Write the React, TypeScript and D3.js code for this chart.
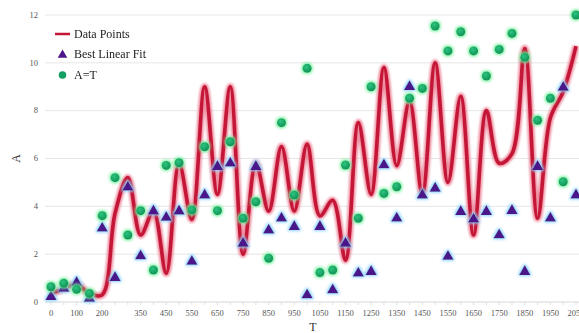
import React from "react";
import * as d3 from "d3";

const tValues = [
  0, 50, 100, 150, 200, 250, 300, 350, 400, 450, 500, 550, 600, 650, 700, 750, 800, 850, 900, 950, 1000,
  1050, 1100, 1150, 1200, 1250, 1300, 1350, 1400, 1450, 1500, 1550, 1600, 1650, 1700, 1750, 1800, 1850,
  1900, 1950, 2000, 2050,
];

// red smooth line
const dataPoints = [
  0.35, 0.55, 0.75, 0.35, 0.3, 3.7, 5.2, 2.8, 3.8, 1.2, 5.8, 3.45, 9.0, 4.5, 9.0, 2.0, 5.8, 3.8, 6.5, 3.8, 6.6,
  3.6, 4.25, 1.75, 7.5, 4.5, 9.8, 5.7, 8.4, 4.5, 10.0, 5.0, 8.6, 2.8, 8.0, 5.8, 6.2, 10.6, 3.5, 7.7, 8.8, 10.7,
];

// purple triangles
const bestLinearFit = [
  0.22, 0.57, 0.81, 0.15, 3.08, 1.02, 4.8, 1.92, 3.8, 3.53, 3.8, 1.69, 4.47, 5.66, 5.8, 2.45, 5.66, 3.0, 3.5,
  3.15, 0.29, 3.15, 0.5, 2.45, 1.2, 1.27, 5.73, 3.5, 9.0, 4.47, 4.75, 1.9, 3.78, 3.46, 3.78, 2.8, 3.82, 1.27,
  5.66, 3.5, 8.97, 4.47,
];

// green circles
const aEqualsT = [
  0.64, 0.78, 0.53, 0.36, 3.61, 5.2, 2.8, 3.82, 1.34, 5.71, 5.82, 3.85, 6.49, 3.82, 6.7, 3.5, 4.19, 1.83, 7.5,
  4.47, 9.77, 1.23, 1.34, 5.73, 3.5, 9.0, 4.54, 4.82, 8.52, 8.93, 11.54, 10.5, 11.3, 10.5, 9.45, 10.56, 11.23,
  10.23, 7.6, 8.52, 5.03, 12.0,
];

const xTickLabels = [0, 100, 200, 350, 450, 550, 650, 750, 850, 950, 1050, 1150, 1250, 1350, 1450, 1550, 1650, 1750, 1850, 1950, 2050];
const yTickLabels = [0, 2, 4, 6, 8, 10, 12];

const width = 579;
const height = 333;

const App: React.FC = () => {
  const x = d3.scaleLinear().domain([0, 2050]).range([51, 576]);
  const y = d3.scaleLinear().domain([0, 12]).range([302, 15]);

  const line = d3
    .line<number>()
    .x((_, i) => x(tValues[i]))
    .y((d) => y(d))
    .curve(d3.curveCatmullRom.alpha(0.5));
  const pathD = line(dataPoints) || "";

  const tri = d3.symbol(d3.symbolTriangle, 56)() || "";
  const font = "'Liberation Serif', 'Times New Roman', serif";

  return (
    <svg
      width={width}
      height={height}
      viewBox={`0 0 ${width} ${height}`}
      style={{ position: "absolute", left: 0, top: 0, background: "#fff" }}
    >
      <defs>
        <filter id="glowGreen" x="-60%" y="-60%" width="220%" height="220%">
          <feMorphology operator="dilate" radius="1.3" in="SourceAlpha" result="d" />
          <feGaussianBlur in="d" stdDeviation="1.5" result="b" />
          <feFlood floodColor="#74f29c" />
          <feComposite in2="b" operator="in" result="glow" />
          <feMerge>
            <feMergeNode in="glow" />
            <feMergeNode in="SourceGraphic" />
          </feMerge>
        </filter>
        <filter id="glowBlue" x="-60%" y="-60%" width="220%" height="220%">
          <feMorphology operator="dilate" radius="1.3" in="SourceAlpha" result="d" />
          <feGaussianBlur in="d" stdDeviation="1.5" result="b" />
          <feFlood floodColor="#8fd3ff" />
          <feComposite in2="b" operator="in" result="glow" />
          <feMerge>
            <feMergeNode in="glow" />
            <feMergeNode in="SourceGraphic" />
          </feMerge>
        </filter>
        <filter id="soft" x="-5%" y="-5%" width="110%" height="110%">
          <feGaussianBlur stdDeviation="0.9" />
        </filter>
        <radialGradient id="greenFill" cx="40%" cy="35%" r="70%">
          <stop offset="0%" stopColor="#2cc47e" />
          <stop offset="100%" stopColor="#0f8f55" />
        </radialGradient>
      </defs>

      {/* grid */}
      {yTickLabels.map((t) => (
        <g key={t}>
          <line x1={45} x2={width} y1={y(t)} y2={y(t)} stroke={t === 0 ? "#d8d8d8" : "#e6e6e6"} strokeWidth={1} />
          <text x={38} y={y(t)} dy="0.32em" textAnchor="end" fontSize={8.5} fill="#555" fontFamily={font}>
            {t}
          </text>
        </g>
      ))}

      {/* x ticks */}
      {tValues.map((t) => (
        <line key={t} x1={x(t)} x2={x(t)} y1={y(0)} y2={y(0) + 3} stroke="#e0e0e0" />
      ))}
      {xTickLabels.map((t) => (
        <text key={t} x={x(t)} y={316} textAnchor="middle" fontSize={8.5} fill="#555" fontFamily={font}>
          {t}
        </text>
      ))}

      {/* axis titles */}
      <text x={313} y={331} textAnchor="middle" fontSize={12} fill="#333" fontFamily={font}>
        T
      </text>
      <text
        transform={`translate(20,${y(6)}) rotate(-90)`}
        textAnchor="middle"
        fontSize={12}
        fill="#333"
        fontFamily={font}
      >
        A
      </text>

      {/* data line */}
      <path d={pathD} fill="none" stroke="#ee8ea0" strokeWidth={7} strokeLinejoin="round" filter="url(#soft)" />
      <path d={pathD} fill="none" stroke="#c41636" strokeWidth={3.6} strokeLinejoin="round" />

      {/* triangles */}
      <g filter="url(#glowBlue)">
        {bestLinearFit.map((v, i) => (
          <path key={i} d={tri} transform={`translate(${x(tValues[i])},${y(v)})`} fill="#4c168a" />
        ))}
      </g>

      {/* circles */}
      <g filter="url(#glowGreen)">
        {aEqualsT.map((v, i) => (
          <circle key={i} cx={x(tValues[i])} cy={y(v)} r={4.5} fill="url(#greenFill)" />
        ))}
      </g>

      {/* legend */}
      <g fontFamily={font} fontSize={12} fill="#222">
        <line x1={55} x2={70} y1={34} y2={34} stroke="#c41636" strokeWidth={2.5} />
        <text x={74} y={34} dy="0.35em">
          Data Points
        </text>
        <path d={d3.symbol(d3.symbolTriangle, 40)() || ""} transform="translate(62.5,55)" fill="#4c168a" />
        <text x={74} y={54} dy="0.35em">
          Best Linear Fit
        </text>
        <circle cx={62.5} cy={75} r={3.8} fill="#13a063" />
        <text x={74} y={75} dy="0.35em">
          A=T
        </text>
      </g>
    </svg>
  );
};

export default App;
